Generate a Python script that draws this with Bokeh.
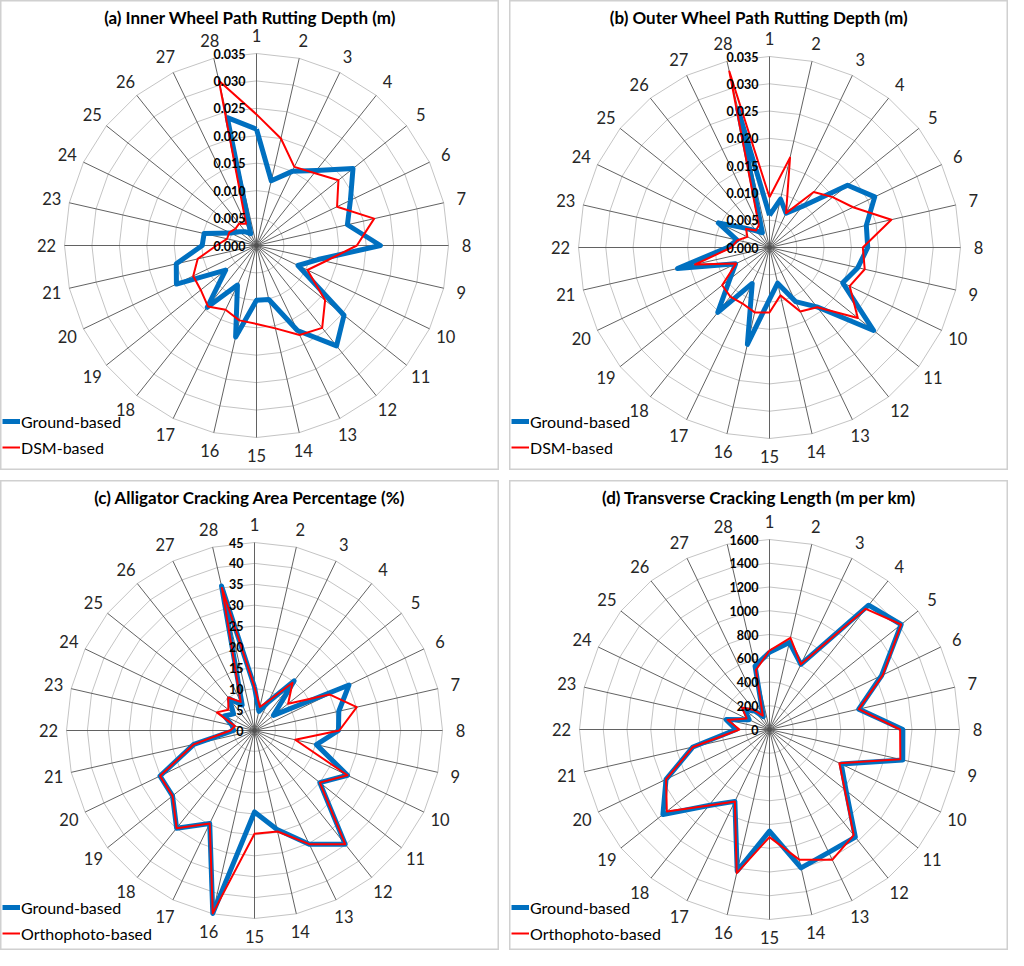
import numpy as np
from bokeh.plotting import figure
from bokeh.layouts import gridplot
from bokeh.models import Label, Legend
from bokeh.core.properties import value
from bokeh.embed import file_html
from bokeh.resources import INLINE

# 28 road sections, clockwise from the top
sites = [str(i) for i in range(1, 29)]

# (a) inner wheel path rutting depth (m)
inner_ground = [0.0212, 0.0121, 0.0150, 0.0175, 0.0225, 0.0190, 0.0170, 0.0226, 0.0115, 0.0084,
                0.0204, 0.0234, 0.0172, 0.0101, 0.0100, 0.0171, 0.0080, 0.0144, 0.0072, 0.0162,
                0.0150, 0.0099, 0.0098, 0.0052, 0.0040, 0.0032, 0.0024, 0.0239]
inner_dsm = [0.0239, 0.0200, 0.0159, 0.0169, 0.0191, 0.0163, 0.0220, 0.0183, 0.0129, 0.0103,
             0.0160, 0.0192, 0.0181, 0.0155, 0.0143, 0.0140, 0.0130, 0.0142, 0.0130, 0.0128,
             0.0110, 0.0073, 0.0055, 0.0055, 0.0049, 0.0051, 0.0044, 0.0308]

# (b) outer wheel path rutting depth (m)
outer_ground = [0.0059, 0.0091, 0.0070, 0.0096, 0.0183, 0.0214, 0.0182, 0.0180, 0.0166, 0.0149,
                0.0244, 0.0139, 0.0110, 0.0067, 0.0095, 0.0182, 0.0073, 0.0152, 0.0093, 0.0069,
                0.0173, 0.0077, 0.0061, 0.0104, 0.0057, 0.0039, 0.0030, 0.0261]
outer_dsm = [0.0092, 0.0169, 0.0070, 0.0130, 0.0148, 0.0170, 0.0229, 0.0171, 0.0179, 0.0163,
             0.0207, 0.0140, 0.0130, 0.0090, 0.0119, 0.0122, 0.0114, 0.0115, 0.0111, 0.0068,
             0.0140, 0.0070, 0.0060, 0.0045, 0.0055, 0.0040, 0.0045, 0.0331]

# (c) alligator cracking area percentage (%)
alligator_ground = [10.4, 4.7, 7.5, 15.2, 5.8, 25.1, 20.7, 20.1, 15.2, 24.7,
                    20.0, 34.8, 30.2, 24.3, 19.5, 44.9, 24.7, 29.9, 25.1, 25.1,
                    14.9, 5.0, 5.5, 8.0, 6.4, 9.7, 6.8, 35.5]
alligator_ortho = [10.4, 5.8, 7.9, 14.6, 10.3, 19.9, 25.1, 20.3, 10.0, 24.7,
                   20.0, 34.8, 30.2, 24.8, 24.7, 44.9, 24.7, 29.9, 25.1, 25.1,
                   14.9, 5.8, 4.8, 10.0, 8.0, 10.1, 7.6, 35.0]

# (d) transverse cracking length (m per km)
transverse_ground = [650, 752, 609, 1339, 1418, 1048, 771, 1123, 1151, 670,
                     825, 1159, 1149, 1195, 856, 1222, 672, 819, 1148, 967,
                     661, 281, 374, 190, 270, 200, 120, 547]
transverse_ortho = [665, 792, 609, 1300, 1418, 1060, 771, 1100, 1130, 653,
                    810, 1137, 1218, 1124, 906, 1240, 672, 819, 1106, 967,
                    661, 253, 361, 214, 298, 209, 130, 514]

rut_ticks = ["0.000", "0.005", "0.010", "0.015", "0.020", "0.025", "0.030", "0.035"]
alligator_ticks = ["0", "5", "10", "15", "20", "25", "30", "35", "40", "45"]
transverse_ticks = ["0", "200", "400", "600", "800", "1000", "1200", "1400", "1600"]

W, H = 499, 470
FONT = "Lato"


def radar(title, ground, other, other_label, ticks, cx, cy, R, leg_y):
    vmax = float(ticks[-1])
    p = figure(width=W, height=H, x_range=(-cx, W - cx), y_range=(cy - H, cy),
               x_axis_type=None, y_axis_type=None, toolbar_location=None,
               output_backend="svg", min_border=0,
               outline_line_color="#d0d0d0", outline_line_width=2)

    ang = np.pi / 2 - 2 * np.pi * np.arange(28) / 28
    closed = np.append(ang, ang[0])

    # rings
    n = len(ticks) - 1
    xs = [list(k * R / n * np.cos(closed)) for k in range(1, n + 1)]
    ys = [list(k * R / n * np.sin(closed)) for k in range(1, n + 1)]
    p.multi_line(xs, ys, line_color="#c4c4c4", line_width=1)

    # spokes
    p.segment(0, 0, R * np.cos(ang), R * np.sin(ang), line_color="#505050", line_width=0.9)

    # series
    def xy(vals):
        r = np.append(vals, vals[0]) / vmax * R
        return r * np.cos(closed), r * np.sin(closed)

    gx, gy = xy(ground)
    ox, oy = xy(other)
    g = p.line(gx, gy, line_color="#0070C0", line_width=5, line_join="round")
    o = p.line(ox, oy, line_color="#FF0000", line_width=2, line_join="round")

    # category labels
    lr = R + 18
    p.text(lr * np.cos(ang), lr * np.sin(ang), text=sites, text_align="center",
           text_baseline="middle", text_font=value(FONT), text_font_size="16.5px",
           text_color="#262626")

    # value labels along the first spoke
    p.text(-11, np.arange(n + 1) * R / n, text=ticks, text_align="right",
           text_baseline="middle", text_font=value(FONT), text_font_size="12.5px",
           text_font_style="bold", text_color="#000000")

    p.add_layout(Label(x=W / 2, y=H - 17, x_units="screen", y_units="screen", text=title,
                       text_align="center", text_baseline="middle", text_font=FONT,
                       text_font_size="17px", text_font_style="bold", text_color="#000000"))

    leg = Legend(items=[("Ground-based", [g]), (other_label, [o])], location=(2, leg_y),
                 border_line_color=None, background_fill_alpha=0, padding=0, margin=0,
                 spacing=6, glyph_width=18, glyph_height=20, label_height=20,
                 label_standoff=1, label_text_font=FONT, label_text_font_size="16px",
                 label_text_color="#000000")
    p.add_layout(leg)
    return p


pa = radar("(a) Inner Wheel Path Rutting Depth (m)", inner_ground, inner_dsm, "DSM-based",
           rut_ticks, 256, 245, 192, 13)
pb = radar("(b) Outer Wheel Path Rutting Depth (m)", outer_ground, outer_dsm, "DSM-based",
           rut_ticks, 260, 247, 191, 13)
pc = radar("(c) Alligator Cracking Area Percentage (%)", alligator_ground, alligator_ortho,
           "Orthophoto-based", alligator_ticks, 254, 250, 188, 7)
pd = radar("(d) Transverse Cracking Length (m per km)", transverse_ground, transverse_ortho,
           "Orthophoto-based", transverse_ticks, 260, 249, 190, 7)

grid = gridplot([[pa, pb], [pc, pd]], toolbar_location=None)
grid.spacing = 10

open("out.html", "w").write(file_html(grid, INLINE))
